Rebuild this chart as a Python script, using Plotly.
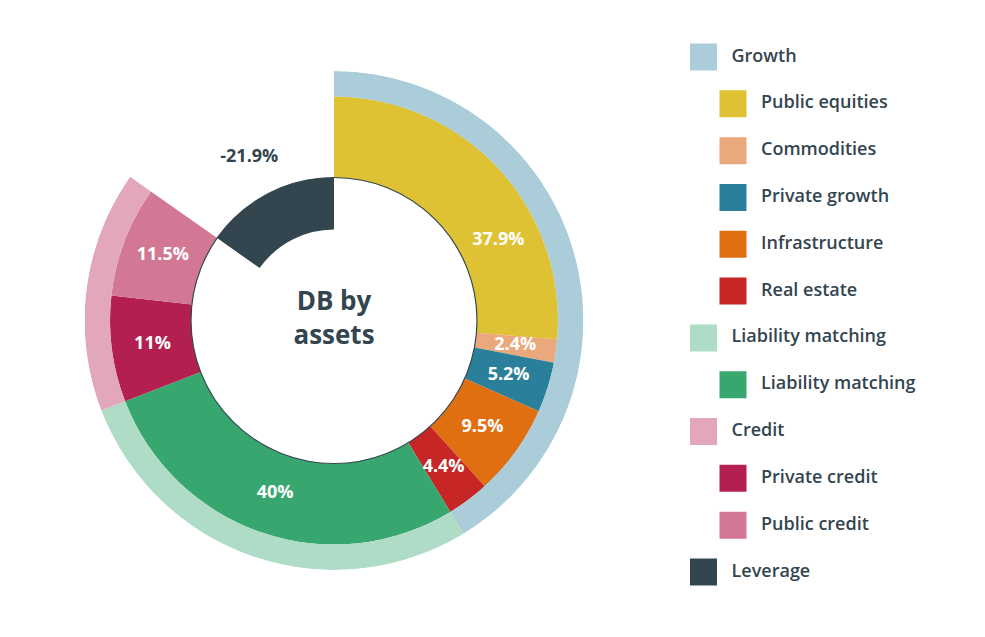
import plotly.graph_objects as go

# ---------------- data ----------------
group_names = ["Growth", "Liability matching", "Credit", "Leverage"]
group_values = [59.4, 40, 22.5, -21.9]
group_colors = ["#aacdd9", "#aedcc6", "#e2a7ba", "#33464f"]

asset_names = ["Public equities", "Commodities", "Private growth", "Infrastructure",
               "Real estate", "Liability matching", "Private credit", "Public credit"]
asset_values = [37.9, 2.4, 5.2, 9.5, 4.4, 40, 11, 11.5]
asset_groups = ["Growth", "Growth", "Growth", "Growth", "Growth",
                "Liability matching", "Credit", "Credit"]
asset_colors = ["#dfc234", "#eba87d", "#2a809b", "#e06f12", "#c62625",
                "#37a76f", "#b31f4e", "#d27794"]

center_title = "DB by<br>assets"

# ---------------- styling ----------------
TEXT = "#33454f"
FONT = "Open Sans"
OFF = 8                        # page body margin
W, H = 985 - 2 * OFF, 637 - 2 * OFF
CX, CY = 334 - OFF, 320.5 - OFF   # pixel centre of the donut (figure coords)
R_OUT, R_MID, R_HOLE, R_NEG = 249.5, 224, 143, 91
R_IN_LABEL, R_OUT_LABEL, R_NEG_LABEL = 183, 287, 184
inner_label_nudge = {"Public equities": 16.5}   # degrees
outer_label_nudge = {"Growth": 11}

def pct(v):
    return f"{v:g}%"

deg_per = 360.0 / sum(abs(v) for v in group_values)

# group angles
g_theta, g_width = [], []
acc = 0.0
for v in group_values:
    w = abs(v) * deg_per
    g_theta.append(acc + w / 2)
    g_width.append(w)
    acc += w

# asset angles
a_theta, a_width = [], []
acc = 0.0
for v in asset_values:
    w = abs(v) * deg_per
    a_theta.append(acc + w / 2)
    a_width.append(w)
    acc += w

fig = go.Figure()

# inner ring (assets)
fig.add_trace(go.Barpolar(
    theta=a_theta, width=a_width,
    r=[R_MID - R_HOLE] * len(asset_values), base=[R_HOLE] * len(asset_values),
    marker=dict(color=asset_colors, line=dict(width=0)),
    hoverinfo="skip", showlegend=False, subplot="polar"))

# outer ring (positive groups) and negative groups drawn inward
pos = [i for i, v in enumerate(group_values) if v >= 0]
neg = [i for i, v in enumerate(group_values) if v < 0]
fig.add_trace(go.Barpolar(
    theta=[g_theta[i] for i in pos], width=[g_width[i] for i in pos],
    r=[R_OUT - R_MID] * len(pos), base=[R_MID] * len(pos),
    marker=dict(color=[group_colors[i] for i in pos], line=dict(width=0)),
    hoverinfo="skip", showlegend=False, subplot="polar"))
fig.add_trace(go.Barpolar(
    theta=[g_theta[i] for i in neg], width=[g_width[i] for i in neg],
    r=[R_HOLE - R_NEG] * len(neg), base=[R_NEG] * len(neg),
    marker=dict(color=[group_colors[i] for i in neg], line=dict(width=0)),
    hoverinfo="skip", showlegend=False, subplot="polar"))

# inner labels
fig.add_trace(go.Scatterpolar(
    theta=[t + inner_label_nudge.get(n, 0) for t, n in zip(a_theta, asset_names)],
    r=[R_IN_LABEL] * len(asset_values),
    mode="text", text=[pct(v) for v in asset_values],
    textfont=dict(family=FONT, size=18, color="white", weight=700),
    cliponaxis=False, hoverinfo="skip", showlegend=False, subplot="polar"))

# outer labels
fig.add_trace(go.Scatterpolar(
    theta=[t + outer_label_nudge.get(n, 0) for t, n in zip(g_theta, group_names)],
    r=[R_OUT_LABEL if v >= 0 else R_NEG_LABEL for v in group_values],
    mode="text", text=[pct(v) for v in group_values],
    textfont=dict(family=FONT, size=18, color=TEXT, weight=700),
    cliponaxis=False, hoverinfo="skip", showlegend=False, subplot="polar"))

# centre title
fig.add_trace(go.Scatterpolar(
    theta=[0], r=[0], mode="text", text=[center_title],
    textfont=dict(family=FONT, size=26, color=TEXT, weight=700),
    cliponaxis=False, hoverinfo="skip", showlegend=False, subplot="polar"))

# ---------------- legend (drawn on a hidden cartesian axis) ----------------
leg_labels, leg_colors, leg_level = [], [], []
for gname, gcol in zip(group_names, group_colors):
    leg_labels.append(gname); leg_colors.append(gcol); leg_level.append(0)
    for aname, ag, acol in zip(asset_names, asset_groups, asset_colors):
        if ag == gname:
            leg_labels.append(aname); leg_colors.append(acol); leg_level.append(1)
leg_y = list(range(len(leg_labels)))

fig.add_trace(go.Scatter(
    x=leg_level, y=leg_y, mode="markers",
    marker=dict(symbol="square", size=27, color=leg_colors, line=dict(width=0)),
    hoverinfo="skip", showlegend=False, xaxis="x", yaxis="y"))
fig.add_trace(go.Scatter(
    x=[l + 0.95 for l in leg_level], y=leg_y, mode="text", text=leg_labels,
    textposition="middle right",
    textfont=dict(family=FONT, size=18, color=TEXT, weight=600),
    cliponaxis=False, hoverinfo="skip", showlegend=False, xaxis="x", yaxis="y"))

# ---------------- layout ----------------
def pdom(r):
    return dict(x=[(CX - r) / W, (CX + r) / W], y=[(H - CY - r) / H, (H - CY + r) / H])

leg_x0, leg_unit = 703.5 - OFF, 29.5
leg_y0, leg_step = 57 - OFF, (572 - 57) / 11
x_dom = [0.6, 1.0]

fig.update_layout(
    width=W, height=H, margin=dict(l=0, r=0, t=0, b=0),
    paper_bgcolor="white", plot_bgcolor="rgba(0,0,0,0)",
    showlegend=False,
    polar=dict(
        domain=pdom(R_OUT), bgcolor="rgba(0,0,0,0)", barmode="overlay", hole=0,
        radialaxis=dict(visible=False, range=[0, R_OUT]),
        angularaxis=dict(visible=False, direction="clockwise", rotation=90)),
    polar2=dict(
        domain=pdom(R_HOLE), bgcolor="rgba(0,0,0,0)",
        radialaxis=dict(visible=False, range=[0, 1]),
        angularaxis=dict(visible=True, showline=True, linecolor=TEXT, linewidth=1.2,
                         showgrid=False, showticklabels=False, ticks="")),
    xaxis=dict(domain=x_dom, visible=False,
               range=[(x_dom[0] * W - leg_x0) / leg_unit, (x_dom[1] * W - leg_x0) / leg_unit]),
    yaxis=dict(domain=[0, 1], visible=False,
               range=[(H - leg_y0) / leg_step, -leg_y0 / leg_step]),
)

# an empty trace so polar2 is rendered
fig.add_trace(go.Scatterpolar(r=[], theta=[], subplot="polar2", showlegend=False))

fig.write_html("out.html")
